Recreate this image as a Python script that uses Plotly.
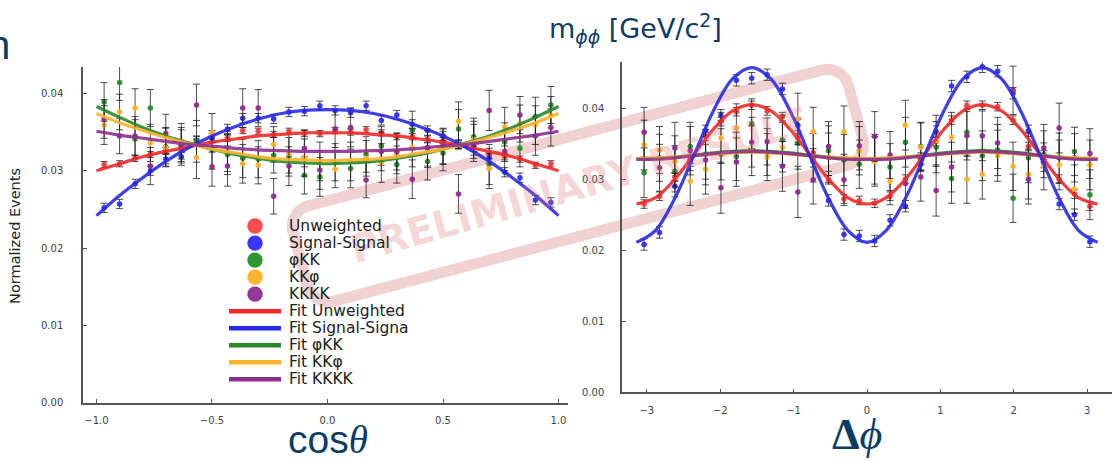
import numpy as np
import plotly.graph_objects as go

W, H = 1118, 461

# ---------------- cos(theta) panel data ----------------
cos_x = [-0.967, -0.900, -0.833, -0.767, -0.700, -0.633, -0.567, -0.500, -0.433, -0.367,
         -0.300, -0.233, -0.167, -0.100, -0.033, 0.033, 0.100, 0.167, 0.233, 0.300,
         0.367, 0.433, 0.500, 0.567, 0.633, 0.700, 0.767, 0.833, 0.900, 0.967]
cos_unw = [0.0308, 0.0309, 0.0316, 0.0321, 0.0326, 0.0328, 0.0337, 0.0341, 0.0342, 0.0352,
           0.0351, 0.0347, 0.0351, 0.0348, 0.0348, 0.0352, 0.0350, 0.0353, 0.0349, 0.0344,
           0.0344, 0.0341, 0.0339, 0.0333, 0.0332, 0.0320, 0.0318, 0.0315, 0.0307, 0.0309]
cos_sig = [0.0252, 0.0257, 0.0283, 0.0300, 0.0315, 0.0318, 0.0339, 0.0342, 0.0354, 0.0368,
           0.0368, 0.0367, 0.0376, 0.0377, 0.0384, 0.0378, 0.0375, 0.0384, 0.0365, 0.0372,
           0.0360, 0.0352, 0.0345, 0.0334, 0.0331, 0.0316, 0.0298, 0.0291, 0.0262, 0.0259]
cos_phikk = [0.0389, 0.0414, 0.0341, 0.0381, 0.0331, 0.0333, 0.0338, 0.0327, 0.0321, 0.0316,
             0.0315, 0.0320, 0.0318, 0.0294, 0.0292, 0.0311, 0.0303, 0.0321, 0.0332, 0.0308,
             0.0352, 0.0312, 0.0323, 0.0354, 0.0344, 0.0308, 0.0337, 0.0329, 0.0370, 0.0385]
cos_kkphi = [0.0359, 0.0376, 0.0381, 0.0336, 0.0330, 0.0338, 0.0317, 0.0349, 0.0325, 0.0309,
             0.0307, 0.0334, 0.0322, 0.0317, 0.0312, 0.0302, 0.0312, 0.0316, 0.0310, 0.0320,
             0.0330, 0.0328, 0.0331, 0.0364, 0.0340, 0.0303, 0.0357, 0.0361, 0.0359, 0.0372]
cos_kkkk = [0.0367, 0.0345, 0.0345, 0.0306, 0.0348, 0.0330, 0.0385, 0.0305, 0.0306, 0.0381,
            0.0381, 0.0267, 0.0306, 0.0329, 0.0301, 0.0354, 0.0356, 0.0288, 0.0325, 0.0325,
            0.0289, 0.0330, 0.0332, 0.0270, 0.0336, 0.0378, 0.0325, 0.0372, 0.0345, 0.0356]
cos_err_unw = [0.0004, 0.0004, 0.0004, 0.0004, 0.0004, 0.0004, 0.0004, 0.0004, 0.0004, 0.0004,
               0.0004, 0.0004, 0.0004, 0.0004, 0.0004, 0.0004, 0.0004, 0.0004, 0.0004, 0.0004,
               0.0004, 0.0004, 0.0004, 0.0004, 0.0004, 0.0004, 0.0004, 0.0004, 0.0004, 0.0004]
cos_err_sig = [0.0006, 0.0006, 0.0006, 0.0006, 0.0006, 0.0006, 0.0006, 0.0006, 0.0006, 0.0006,
               0.0006, 0.0006, 0.0006, 0.0006, 0.0006, 0.0006, 0.0006, 0.0006, 0.0006, 0.0006,
               0.0006, 0.0006, 0.0006, 0.0006, 0.0006, 0.0006, 0.0006, 0.0006, 0.0006, 0.0006]
cos_err_bkg = [0.0025, 0.0023, 0.0025, 0.0024, 0.0025, 0.0023, 0.0027, 0.0025, 0.0026, 0.0025,
               0.0024, 0.0023, 0.0025, 0.0024, 0.0025, 0.0024, 0.0025, 0.0023, 0.0025, 0.0024,
               0.0025, 0.0024, 0.0023, 0.0025, 0.0024, 0.0026, 0.0025, 0.0024, 0.0025, 0.0024]

# fitted curves
cos_fit_x = [-1.0, -0.9, -0.8, -0.7, -0.6, -0.5, -0.4, -0.3, -0.2, -0.1, 0.0,
             0.1, 0.2, 0.3, 0.4, 0.5, 0.6, 0.7, 0.8, 0.9, 1.0]
cos_fit_unw = [0.0300, 0.0309, 0.0318, 0.0325, 0.0331, 0.0337, 0.0341, 0.0345, 0.0347, 0.0349, 0.0349,
               0.0349, 0.0347, 0.0345, 0.0341, 0.0337, 0.0331, 0.0325, 0.0318, 0.0309, 0.0300]
cos_fit_sig = [0.0242, 0.0268, 0.0291, 0.0312, 0.0330, 0.0345, 0.0357, 0.0367, 0.0374, 0.0378, 0.0379,
               0.0378, 0.0374, 0.0367, 0.0357, 0.0345, 0.0330, 0.0312, 0.0291, 0.0268, 0.0242]
cos_fit_phikk = [0.0383, 0.0369, 0.0356, 0.0345, 0.0336, 0.0328, 0.0321, 0.0316, 0.0312, 0.0310, 0.0309,
                 0.0310, 0.0312, 0.0316, 0.0321, 0.0328, 0.0336, 0.0345, 0.0356, 0.0369, 0.0383]
cos_fit_kkphi = [0.0374, 0.0362, 0.0352, 0.0343, 0.0335, 0.0328, 0.0323, 0.0318, 0.0315, 0.0314, 0.0313,
                 0.0314, 0.0315, 0.0318, 0.0323, 0.0328, 0.0335, 0.0343, 0.0352, 0.0362, 0.0374]
cos_fit_kkkk = [0.0351, 0.0346, 0.0342, 0.0338, 0.0334, 0.0332, 0.0329, 0.0327, 0.0326, 0.0325, 0.0325,
                0.0325, 0.0326, 0.0327, 0.0329, 0.0332, 0.0334, 0.0338, 0.0342, 0.0346, 0.0351]

# ---------------- delta phi panel data ----------------
dphi_x = [-3.037, -2.827, -2.618, -2.409, -2.199, -1.990, -1.780, -1.571, -1.361, -1.152,
          -0.942, -0.733, -0.524, -0.314, -0.105, 0.105, 0.314, 0.524, 0.733, 0.942,
          1.152, 1.361, 1.571, 1.780, 1.990, 2.199, 2.409, 2.618, 2.827, 3.037]
dphi_unw = [0.0265, 0.0276, 0.0303, 0.0328, 0.0360, 0.0381, 0.0395, 0.0404, 0.0396, 0.0388,
            0.0358, 0.0337, 0.0299, 0.0272, 0.0270, 0.0266, 0.0276, 0.0300, 0.0327, 0.0353,
            0.0383, 0.0404, 0.0404, 0.0402, 0.0383, 0.0346, 0.0322, 0.0300, 0.0279, 0.0262]
dphi_sig = [0.0208, 0.0225, 0.0290, 0.0326, 0.0368, 0.0390, 0.0439, 0.0442, 0.0447, 0.0427,
            0.0376, 0.0325, 0.0270, 0.0222, 0.0220, 0.0213, 0.0242, 0.0262, 0.0321, 0.0367,
            0.0431, 0.0444, 0.0458, 0.0452, 0.0421, 0.0368, 0.0332, 0.0265, 0.0250, 0.0212]
dphi_phikk = [0.0309, 0.0330, 0.0311, 0.0346, 0.0335, 0.0335, 0.0332, 0.0378, 0.0338, 0.0355,
              0.0350, 0.0330, 0.0340, 0.0327, 0.0321, 0.0328, 0.0317, 0.0352, 0.0346, 0.0345,
              0.0301, 0.0366, 0.0333, 0.0341, 0.0273, 0.0330, 0.0335, 0.0330, 0.0339, 0.0278]
dphi_kkphi = [0.0348, 0.0341, 0.0325, 0.0297, 0.0314, 0.0358, 0.0372, 0.0340, 0.0331, 0.0345,
              0.0385, 0.0367, 0.0330, 0.0367, 0.0340, 0.0325, 0.0297, 0.0376, 0.0345, 0.0354,
              0.0359, 0.0300, 0.0307, 0.0333, 0.0318, 0.0307, 0.0318, 0.0320, 0.0286, 0.0320]
dphi_kkkk = [0.0366, 0.0316, 0.0344, 0.0340, 0.0327, 0.0288, 0.0324, 0.0352, 0.0353, 0.0318,
             0.0282, 0.0299, 0.0346, 0.0299, 0.0347, 0.0360, 0.0334, 0.0294, 0.0303, 0.0284,
             0.0317, 0.0361, 0.0361, 0.0351, 0.0425, 0.0300, 0.0344, 0.0372, 0.0330, 0.0336]
dphi_err_unw = [0.0006] * 30
dphi_err_sig = [0.0008] * 30
dphi_err_bkg = [0.0035, 0.0033, 0.0036, 0.0034, 0.0035, 0.0036, 0.0034, 0.0035, 0.0033, 0.0035,
                0.0036, 0.0034, 0.0035, 0.0036, 0.0034, 0.0035, 0.0033, 0.0035, 0.0034, 0.0036,
                0.0035, 0.0034, 0.0035, 0.0036, 0.0034, 0.0035, 0.0033, 0.0035, 0.0034, 0.0035]

dphi_fit_x = [-3.142, -2.880, -2.618, -2.356, -2.094, -1.833, -1.571, -1.309, -1.047, -0.785,
              -0.524, -0.262, 0.0, 0.262, 0.524, 0.785, 1.047, 1.309, 1.571, 1.833,
              2.094, 2.356, 2.618, 2.880, 3.142]
dphi_fit_unw = [0.0265, 0.0274, 0.0300, 0.0335, 0.0370, 0.0396, 0.0405, 0.0396, 0.0370, 0.0335,
                0.0300, 0.0274, 0.0265, 0.0274, 0.0300, 0.0335, 0.0370, 0.0396, 0.0405, 0.0396,
                0.0370, 0.0335, 0.0300, 0.0274, 0.0265]
dphi_fit_sig = [0.0211, 0.0228, 0.0273, 0.0334, 0.0396, 0.0441, 0.0457, 0.0441, 0.0396, 0.0334,
                0.0273, 0.0228, 0.0211, 0.0228, 0.0273, 0.0334, 0.0396, 0.0441, 0.0457, 0.0441,
                0.0396, 0.0334, 0.0273, 0.0228, 0.0211]
dphi_fit_phikk = [0.0328, 0.0329, 0.0331, 0.0334, 0.0337, 0.0339, 0.0340, 0.0339, 0.0337, 0.0334,
                  0.0331, 0.0329, 0.0328, 0.0329, 0.0331, 0.0334, 0.0337, 0.0339, 0.0340, 0.0339,
                  0.0337, 0.0334, 0.0331, 0.0329, 0.0328]
dphi_fit_kkphi = [0.0329, 0.0330, 0.0331, 0.0333, 0.0335, 0.0337, 0.0338, 0.0337, 0.0335, 0.0333,
                  0.0331, 0.0330, 0.0329, 0.0330, 0.0331, 0.0333, 0.0335, 0.0337, 0.0338, 0.0337,
                  0.0335, 0.0333, 0.0331, 0.0330, 0.0329]
dphi_fit_kkkk = [0.0328, 0.0328, 0.0330, 0.0333, 0.0336, 0.0338, 0.0339, 0.0338, 0.0336, 0.0333,
                 0.0330, 0.0328, 0.0328, 0.0328, 0.0330, 0.0333, 0.0336, 0.0338, 0.0339, 0.0338,
                 0.0336, 0.0333, 0.0330, 0.0328, 0.0328]

series_names = ["Unweighted", "Signal-Signal", "φKK", "KKφ", "KKKK"]
fit_names = ["Fit Unweighted", "Fit Signal-Signa", "Fit φKK", "Fit KKφ", "Fit KKKK"]
tick_vals_y = [0.00, 0.01, 0.02, 0.03, 0.04]

# ---------------- styles ----------------
mk_colors = ["#ff3a3a", "#2e2eff", "#2a8c2a", "#ffb02a", "#8e2a8e"]
ln_colors = ["#f02a2a", "#2a2ae8", "#2a8a2a", "#fdb32e", "#8e2f8e"]
leg_colors = ["#ff4d4d", "#3838ff", "#2f9630", "#ffb330", "#94369a"]
NAVY = "#0c3b64"
AX = "#555555"

def px(x):
    return x / W

def py(y):
    return (H - y) / H

fig = go.Figure()

cos_data = [cos_unw, cos_sig, cos_phikk, cos_kkphi, cos_kkkk]
cos_errs = [cos_err_unw, cos_err_sig, cos_err_bkg, cos_err_bkg, cos_err_bkg]
cos_fits = [cos_fit_unw, cos_fit_sig, cos_fit_phikk, cos_fit_kkphi, cos_fit_kkkk]
dphi_data = [dphi_unw, dphi_sig, dphi_phikk, dphi_kkphi, dphi_kkkk]
dphi_errs = [dphi_err_unw, dphi_err_sig, dphi_err_bkg, dphi_err_bkg, dphi_err_bkg]
dphi_fits = [dphi_fit_unw, dphi_fit_sig, dphi_fit_phikk, dphi_fit_kkphi, dphi_fit_kkkk]

def add_panel(xs, data, errs, fit_x, fits, xa, ya, order_fit):
    for i in range(5):
        fig.add_trace(go.Scatter(
            x=xs, y=data[i], mode="markers", xaxis=xa, yaxis=ya, showlegend=False,
            marker=dict(size=5.5, color=mk_colors[i], opacity=0.95),
            error_y=dict(type="data", array=errs[i], visible=True,
                         color="rgba(20,20,20,0.75)", thickness=1, width=3.5),
            hoverinfo="skip"))
    for i in order_fit:
        fig.add_trace(go.Scatter(
            x=fit_x, y=fits[i], mode="lines", xaxis=xa, yaxis=ya, showlegend=False,
            line=dict(color=ln_colors[i], width=3.2, shape="spline"),
            opacity=0.9, hoverinfo="skip"))

add_panel(cos_x, cos_data, cos_errs, cos_fit_x, cos_fits, "x", "y", [0, 1, 2, 3, 4])
add_panel(dphi_x, dphi_data, dphi_errs, dphi_fit_x, dphi_fits, "x2", "y2", [2, 3, 4, 0, 1])

axis_common = dict(showline=True, linecolor=AX, linewidth=1.5, ticks="inside", ticklen=4,
                   tickcolor=AX, tickwidth=1, showgrid=False, zeroline=False,
                   tickfont=dict(family="DejaVu Sans", size=10, color="#444444"))

fig.update_layout(
    width=W, height=H, margin=dict(l=0, r=0, t=0, b=0),
    paper_bgcolor="white", plot_bgcolor="rgba(0,0,0,0)", showlegend=False,
    xaxis=dict(domain=[px(83), px(568)], range=[-1.0584, 1.0411], tickvals=[-1.0, -0.5, 0.0, 0.5, 1.0],
               tickformat=".1f", ticklabelstandoff=8, anchor="y", **axis_common),
    yaxis=dict(domain=[py(408), py(68)], range=[0, 0.0434], tickvals=tick_vals_y, tickformat=".2f",
               ticklabelstandoff=16, anchor="x", **axis_common),
    xaxis2=dict(domain=[px(622), px(1112)], range=[-3.338, 3.338], tickvals=[-3, -2, -1, 0, 1, 2, 3],
                ticklabelstandoff=8, anchor="y2", **axis_common),
    yaxis2=dict(domain=[py(397.5), py(63)], range=[0, 0.04646], tickvals=tick_vals_y, tickformat=".2f",
                ticklabelstandoff=14, anchor="x2", **axis_common),
)

shapes = []
annotations = []

# ---- watermark stamp (decoration) ----
def rrect_path(cx, cy, w, h, r, ang_deg):
    a = np.radians(ang_deg)
    ca, sa = np.cos(a), np.sin(a)
    pts = []
    corners = [(w / 2 - r, h / 2 - r, 0), (-(w / 2 - r), h / 2 - r, 90),
               (-(w / 2 - r), -(h / 2 - r), 180), (w / 2 - r, -(h / 2 - r), 270)]
    for ox, oy, st in corners:
        for t in np.linspace(st, st + 90, 8):
            u = ox + r * np.cos(np.radians(t))
            v = oy + r * np.sin(np.radians(t))
            X = cx + u * ca - v * sa
            Y = cy - (u * sa + v * ca)
            pts.append((px(X), py(Y)))
    return "M " + " L ".join(f"{x:.5f},{y:.5f}" for x, y in pts) + " Z"

shapes.append(dict(type="path", xref="paper", yref="paper", layer="below",
                   path=rrect_path(578, 188, 575, 100, 22, 15),
                   line=dict(color="rgba(232,180,180,0.6)", width=11)))
annotations.append(dict(text="<b>PRELIMINARY RESULT</b>", x=px(578), y=py(188), xref="paper", yref="paper",
                        showarrow=False, textangle=-16,
                        font=dict(family="DejaVu Sans", size=39, color="rgba(220,115,115,0.28)")))

# ---- legend (drawn manually to match the compact spacing) ----
leg_x_sym, leg_x_txt, leg_y0, leg_dy = 255, 287, 229, 17.25
for k, name in enumerate(series_names + fit_names):
    yc = leg_y0 + k * leg_dy
    if k < 5:
        rr = 7.75
        shapes.append(dict(type="circle", xref="paper", yref="paper",
                           x0=px(leg_x_sym - rr), x1=px(leg_x_sym + rr),
                           y0=py(yc + rr), y1=py(yc - rr),
                           fillcolor=leg_colors[k], line=dict(width=0)))
    else:
        shapes.append(dict(type="line", xref="paper", yref="paper",
                           x0=px(229), x1=px(281), y0=py(yc), y1=py(yc),
                           line=dict(color=ln_colors[k - 5], width=4.5)))
    annotations.append(dict(text=name, x=px(leg_x_txt), y=py(yc), xref="paper", yref="paper",
                            xanchor="left", yanchor="middle", showarrow=False,
                            font=dict(family="DejaVu Sans", size=15.5, color="#222222")))

# ---- titles ----
annotations.append(dict(text="Normalized Events", x=px(15), y=py(239), xref="paper", yref="paper",
                        showarrow=False, textangle=-90, xanchor="center", yanchor="middle",
                        font=dict(family="DejaVu Sans", size=14.5, color="#222222")))
annotations.append(dict(text="cos<span style=\"font-family:'Liberation Serif'\"><i>θ</i></span>",
                        x=px(328), y=py(445), xref="paper", yref="paper", showarrow=False,
                        xanchor="center", yanchor="middle",
                        font=dict(family="Liberation Sans", size=39, color=NAVY)))
annotations.append(dict(text="<b>Δ</b><i>ϕ</i>", x=px(857), y=py(440), xref="paper", yref="paper",
                        showarrow=False, xanchor="center", yanchor="middle",
                        font=dict(family="Liberation Serif", size=44, color=NAVY)))
annotations.append(dict(text="m<sub><i>ϕϕ</i></sub> [GeV/c<sup>2</sup>]", x=px(547), y=py(29),
                        xref="paper", yref="paper", showarrow=False, xanchor="left", yanchor="middle",
                        font=dict(family="DejaVu Sans", size=27, color=NAVY)))
annotations.append(dict(text="n", x=px(12), y=py(46), xref="paper", yref="paper", showarrow=False,
                        xanchor="right", yanchor="middle",
                        font=dict(family="Liberation Sans", size=40, color=NAVY)))

fig.update_layout(shapes=shapes, annotations=annotations)
fig.write_html("out.html")
